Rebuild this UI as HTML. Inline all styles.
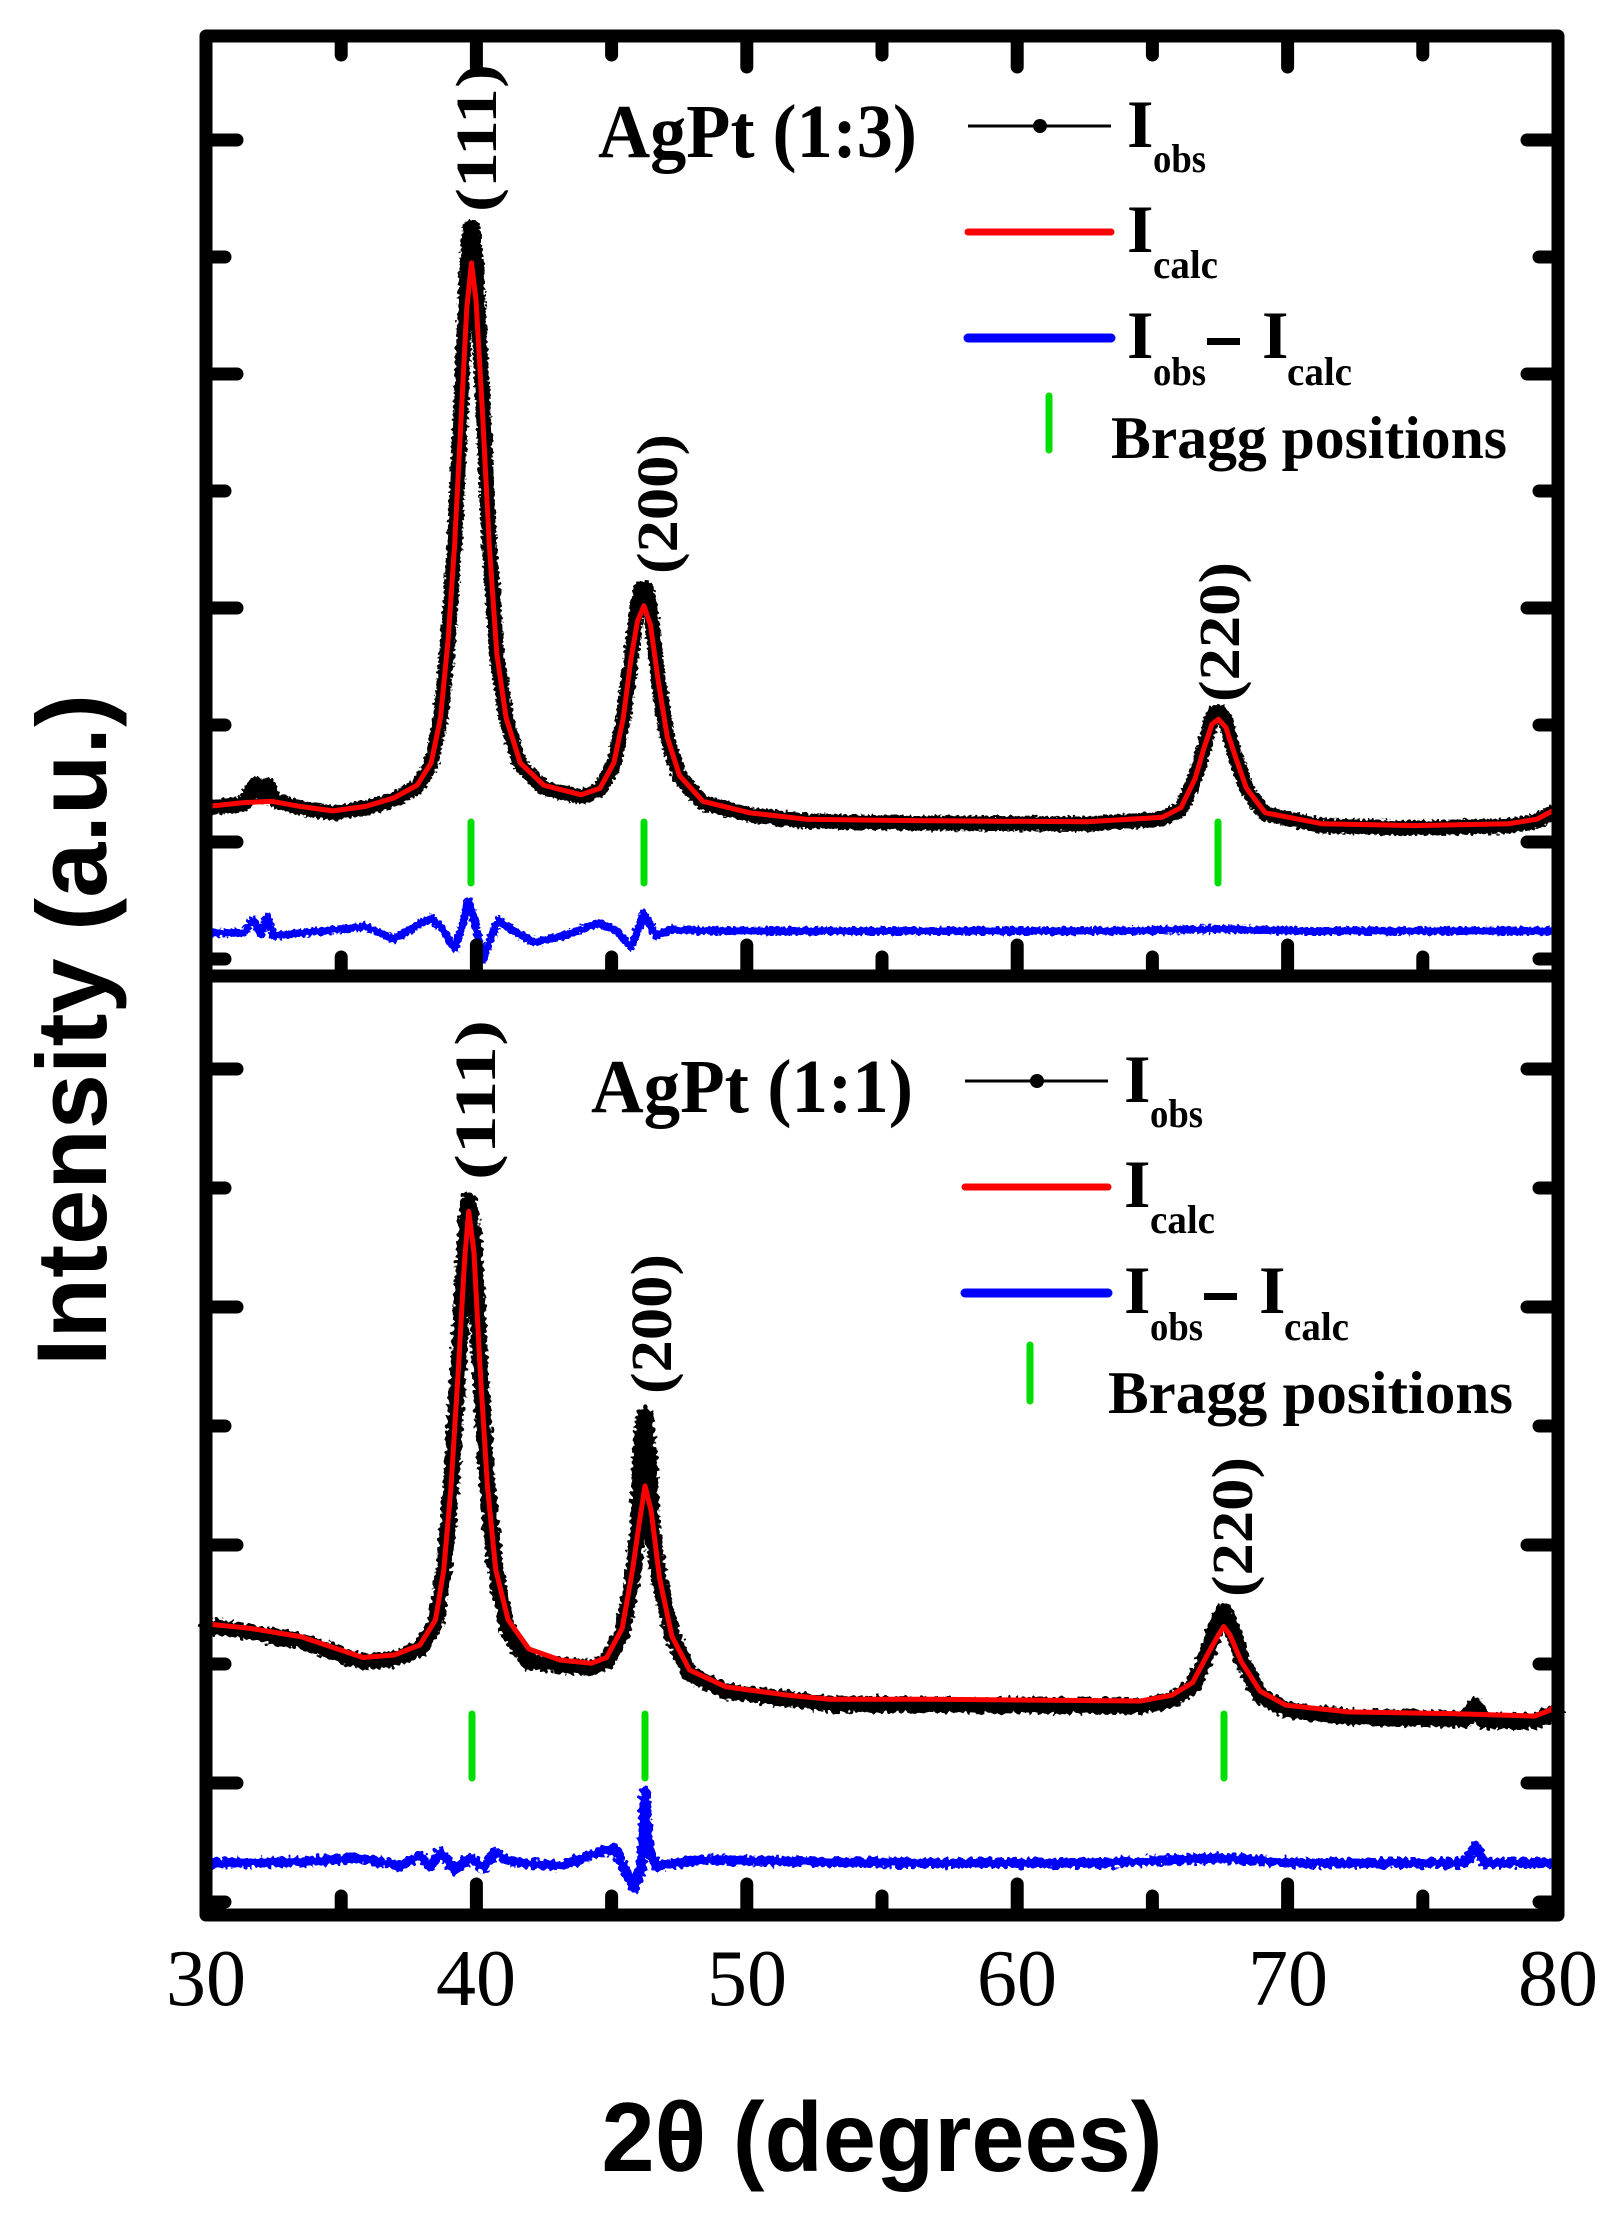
<!DOCTYPE html>
<html><head><meta charset="utf-8"><style>html,body{margin:0;padding:0;background:#fff}svg{display:block}</style></head>
<body>
<svg width="1619" height="2217" viewBox="0 0 1619 2217" xmlns="http://www.w3.org/2000/svg">
<defs>
<filter id="nz" x="-2%" y="-5%" width="104%" height="110%">
<feTurbulence type="fractalNoise" baseFrequency="0.35" numOctaves="1" seed="3" result="t"/>
<feDisplacementMap in="SourceGraphic" in2="t" scale="7" xChannelSelector="R" yChannelSelector="G"/>
</filter>
<filter id="nz2" x="-2%" y="-10%" width="104%" height="120%">
<feTurbulence type="fractalNoise" baseFrequency="0.25" numOctaves="1" seed="7" result="t"/>
<feDisplacementMap in="SourceGraphic" in2="t" scale="10" xChannelSelector="R" yChannelSelector="G"/>
</filter>
</defs>
<g fill="none" stroke-linejoin="round" stroke-linecap="round">
<path filter="url(#nz)" stroke="#000" stroke-width="15" d="M208,808 L243.7,804 L250,792 L256,784 L262,796 L268,785 L274,800 L300,808 L332.8,813 L365.6,808 L393.7,800 L417.1,787 L431.2,764 L440.5,718 L448,641 L454.6,545 L461.2,400 L466.8,270 L470,228 L473,228 L476.1,265 L482.7,400 L489.3,545 L496.8,654 L506.1,719 L520.2,765 L543.6,788 L581.1,797 L599.9,790 L613.9,764 L623.3,719 L630.8,660 L637.3,605 L641,588 L646,588 L650.5,608 L658,679 L667.3,738 L679.5,777 L702.9,803 L749.8,815 L806,821 L899.8,823 L1087.2,824 L1162.2,819 L1180.9,809 L1195,779 L1204.4,746 L1211.9,718 L1216,712 L1220,712 L1225.9,722 L1235.3,756 L1246.5,789 L1265.3,814 L1321.5,826 L1415.2,828 L1508.9,826 L1537,821 L1556,811"/>
<path stroke="#f00" stroke-width="5" d="M208.1,806.4 L243.7,802.6 L271.8,801.3 L300,806.4 L332.8,810.9 L365.6,806.4 L393.7,798 L417.1,785.2 L431.2,762.8 L440.5,717.9 L448,641 L454.6,544.9 L461.2,416.7 L466.8,307.7 L471.5,262.8 L476.1,301.3 L482.7,416.7 L489.3,544.9 L496.8,653.8 L506.1,717.9 L520.2,762.8 L543.6,785.2 L581.1,794.8 L599.9,788.4 L613.9,762.8 L623.3,717.9 L630.8,660.2 L637.3,621.8 L643.9,605.7 L650.5,625 L658,679.5 L667.3,737.2 L679.5,775.6 L702.9,801.3 L749.8,812.8 L806,819.2 L899.8,820.5 L1087.2,821.8 L1162.2,817.3 L1180.9,807.7 L1195,778.8 L1204.4,746.8 L1211.9,724.3 L1218.4,719.2 L1225.9,727.5 L1235.3,756.4 L1246.5,788.4 L1265.3,812.8 L1321.5,823.7 L1415.2,825.6 L1508.9,823.7 L1537,819.2 L1556,809"/>
<path filter="url(#nz)" stroke="#00f" stroke-width="8" d="M208.1,932.7 L243.7,932.7 L253.1,919.8 L260.6,934.6 L267.2,916.6 L273.7,935.9 L337.4,929.5 L365.6,926.3 L393.7,939.1 L421.8,923 L431.2,917.9 L442.4,929.5 L454.6,948.7 L461.2,929.5 L468.7,900.6 L475.2,923 L482.7,960.2 L489.3,942 L498.6,919.8 L510.8,929.5 L534.3,942.3 L562.4,935.9 L599.9,923 L618.6,932.7 L630.8,947.4 L643.9,913.4 L656.1,935.9 L670.1,929.5 L712.3,930.8 L900,931 L1100,931 L1220,929 L1300,931 L1556,930.8"/>
<path filter="url(#nz2)" stroke="#000" stroke-width="16" d="M207.4,1626 L248.9,1632 L300.7,1641 L363,1662 L394.1,1659 L420,1649 L435.5,1623 L443.8,1572 L451.1,1487 L458.4,1368 L464.6,1250 L468.7,1200 L473.9,1240 L480.1,1368 L487.4,1487 L495.7,1572 L508.1,1632 L528.9,1662 L560,1665 L591.1,1668 L606.6,1662 L622.2,1632 L632.6,1578 L638,1530 L641,1440 L645,1415 L649,1460 L652,1530 L659.5,1582 L672,1634 L689.6,1674 L725.9,1691 L788.1,1699 L829.6,1704 L933.3,1705 L1140.7,1706 L1171.8,1700 L1192.6,1686 L1208.1,1652 L1218.5,1620 L1223.7,1611 L1229.9,1622 L1241.3,1658 L1260,1695 L1285.9,1710 L1348.1,1717 L1451.8,1719 L1465,1720 L1475,1706 L1485,1721 L1534.8,1721 L1555.5,1713"/>
<path stroke="#f00" stroke-width="5" d="M207.4,1624 L248.9,1628.2 L300.7,1636.6 L363,1657.5 L394.1,1655 L420,1644.9 L435.5,1619.8 L443.8,1569.6 L451.1,1485.9 L458.4,1368.7 L464.6,1259.9 L468.7,1211.4 L473.9,1251.5 L480.1,1368.7 L487.4,1485.9 L495.7,1569.6 L508.1,1619.8 L528.9,1649 L560,1660 L591.1,1663.3 L606.6,1657.5 L622.2,1628.2 L632.6,1569.6 L639.8,1519.4 L645,1486 L651.2,1511 L659.5,1578 L672,1636.6 L689.6,1670 L725.9,1686.8 L788.1,1695.2 L829.6,1699.3 L933.3,1699.3 L1140.7,1701 L1171.8,1695.2 L1192.6,1682.6 L1208.1,1653.3 L1218.5,1634.9 L1223.7,1626.5 L1229.9,1634.9 L1241.3,1661.7 L1260,1691 L1285.9,1705.2 L1348.1,1711.9 L1451.8,1713.6 L1534.8,1716.1 L1550,1710.2 L1556,1704"/>
<path filter="url(#nz2)" stroke="#00f" stroke-width="10" d="M207.4,1863 L300,1862 L360,1858 L400,1866 L420,1856 L430,1866 L440,1852 L455,1870 L470,1858 L485,1868 L495,1852 L510,1862 L560,1866 L600,1852 L615,1848 L625,1870 L634.6,1888 L641,1870 L645,1791 L649,1850 L656,1866 L700,1860 L900,1863 L1100,1863 L1220,1858 L1300,1863 L1465,1863 L1475,1846 L1485,1863 L1556,1863"/>
</g>
<g stroke="#00dd00" stroke-width="7" stroke-linecap="round">
<line x1="471" y1="822" x2="471" y2="883"/><line x1="644" y1="822" x2="644" y2="883"/><line x1="1218" y1="822" x2="1218" y2="883"/>
<line x1="472" y1="1714" x2="472" y2="1778"/><line x1="645" y1="1714" x2="645" y2="1778"/><line x1="1224" y1="1714" x2="1224" y2="1778"/>
</g>
<g stroke="#000" stroke-width="13" fill="none" stroke-linecap="round" stroke-linejoin="round">
<rect x="206" y="36" width="1352" height="1879"/>
<line x1="206" y1="976" x2="1558" y2="976"/>
</g>
<g stroke="#000" stroke-width="13" stroke-linecap="round">
<path d="M206,140h31M1558,140h-31 M206,257h19M1558,257h-19 M206,374h31M1558,374h-31 M206,491h19M1558,491h-19 M206,608h31M1558,608h-31 M206,725h19M1558,725h-19 M206,842h31M1558,842h-31 M206,959h19M1558,959h-19"/>
<path d="M206,1069h31M1558,1069h-31 M206,1188h19M1558,1188h-19 M206,1307h31M1558,1307h-31 M206,1426h19M1558,1426h-19 M206,1545h31M1558,1545h-31 M206,1664h19M1558,1664h-19 M206,1783h31M1558,1783h-31 M206,1902h19M1558,1902h-19"/>
<path d="M341.2,36v19M476.4,36v31M611.6,36v19M746.8,36v31M882,36v19M1017.2,36v31M1152.4,36v19M1287.6,36v31M1422.8,36v19"/>
<path d="M341.2,976v-19M476.4,976v-31M611.6,976v-19M746.8,976v-31M882,976v-19M1017.2,976v-31M1152.4,976v-19M1287.6,976v-31M1422.8,976v-19"/>
<path d="M341.2,1915v-19M476.4,1915v-31M611.6,1915v-19M746.8,1915v-31M882,1915v-19M1017.2,1915v-31M1152.4,1915v-19M1287.6,1915v-31M1422.8,1915v-19"/>
</g>
<g font-family="Liberation Serif, serif" font-size="80" text-anchor="middle" fill="#000">
<text x="206" y="2005">30</text><text x="476" y="2005">40</text><text x="747" y="2005">50</text>
<text x="1017" y="2005">60</text><text x="1288" y="2005">70</text><text x="1558" y="2005">80</text>
</g>
<text x="882" y="2171" font-family="Liberation Sans, sans-serif" font-weight="bold" font-size="98" text-anchor="middle" textLength="561" lengthAdjust="spacingAndGlyphs">2θ (degrees)</text>
<text transform="translate(106,1030) rotate(-90)" font-family="Liberation Sans, sans-serif" font-weight="bold" font-size="99" text-anchor="middle" textLength="672" lengthAdjust="spacingAndGlyphs">Intensity (a.u.)</text>
<g font-family="Liberation Serif, serif" font-weight="bold" font-size="58" text-anchor="middle">
<text transform="translate(496,138) rotate(-90)" textLength="148" lengthAdjust="spacingAndGlyphs">(111)</text>
<text transform="translate(677,504) rotate(-90)" textLength="140" lengthAdjust="spacingAndGlyphs">(200)</text>
<text transform="translate(1239,632) rotate(-90)" textLength="140" lengthAdjust="spacingAndGlyphs">(220)</text>
<text transform="translate(495,1100) rotate(-90)" textLength="160" lengthAdjust="spacingAndGlyphs">(111)</text>
<text transform="translate(671,1324) rotate(-90)" textLength="140" lengthAdjust="spacingAndGlyphs">(200)</text>
<text transform="translate(1252,1527) rotate(-90)" textLength="140" lengthAdjust="spacingAndGlyphs">(220)</text>
</g>
<g font-family="Liberation Serif, serif" font-weight="bold">
<text x="598" y="157" font-size="76" textLength="319" lengthAdjust="spacingAndGlyphs">AgPt (1:3)</text>
<line x1="968" y1="126" x2="1111" y2="126" stroke="#000" stroke-width="3"/>
<circle cx="1040" cy="126" r="7"/>
<text x="1127" y="147" font-size="68">I</text><text x="1153" y="172" font-size="40" textLength="53" lengthAdjust="spacingAndGlyphs">obs</text>
<line x1="968" y1="232" x2="1111" y2="232" stroke="#f00" stroke-width="7" stroke-linecap="round"/>
<text x="1127" y="252" font-size="68">I</text><text x="1153" y="278" font-size="40" textLength="65" lengthAdjust="spacingAndGlyphs">calc</text>
<line x1="968" y1="338" x2="1111" y2="338" stroke="#00f" stroke-width="9" stroke-linecap="round"/>
<text x="1127" y="358" font-size="68">I</text><text x="1153" y="385" font-size="40" textLength="53" lengthAdjust="spacingAndGlyphs">obs</text>
<rect x="1207" y="338" width="33" height="7"/>
<text x="1262" y="358" font-size="68">I</text><text x="1287" y="385" font-size="40" textLength="65" lengthAdjust="spacingAndGlyphs">calc</text>
<line x1="1049" y1="396" x2="1049" y2="450" stroke="#00dd00" stroke-width="7" stroke-linecap="round"/>
<text x="1111" y="458" font-size="60" textLength="396" lengthAdjust="spacingAndGlyphs">Bragg positions</text>
</g>
<g font-family="Liberation Serif, serif" font-weight="bold" transform="translate(0,955)">
<text x="591" y="157" font-size="76" textLength="322" lengthAdjust="spacingAndGlyphs">AgPt (1:1)</text>
<line x1="965" y1="126" x2="1108" y2="126" stroke="#000" stroke-width="3"/>
<circle cx="1037" cy="126" r="7"/>
<text x="1124" y="147" font-size="68">I</text><text x="1150" y="172" font-size="40" textLength="53" lengthAdjust="spacingAndGlyphs">obs</text>
<line x1="965" y1="232" x2="1108" y2="232" stroke="#f00" stroke-width="7" stroke-linecap="round"/>
<text x="1124" y="252" font-size="68">I</text><text x="1150" y="278" font-size="40" textLength="65" lengthAdjust="spacingAndGlyphs">calc</text>
<line x1="965" y1="338" x2="1108" y2="338" stroke="#00f" stroke-width="9" stroke-linecap="round"/>
<text x="1124" y="358" font-size="68">I</text><text x="1150" y="385" font-size="40" textLength="53" lengthAdjust="spacingAndGlyphs">obs</text>
<rect x="1204" y="338" width="33" height="7"/>
<text x="1259" y="358" font-size="68">I</text><text x="1284" y="385" font-size="40" textLength="65" lengthAdjust="spacingAndGlyphs">calc</text>
<line x1="1030" y1="390" x2="1030" y2="446" stroke="#00dd00" stroke-width="7" stroke-linecap="round"/>
<text x="1108" y="458" font-size="60" textLength="405" lengthAdjust="spacingAndGlyphs">Bragg positions</text>
</g>
</svg>
</body></html>
